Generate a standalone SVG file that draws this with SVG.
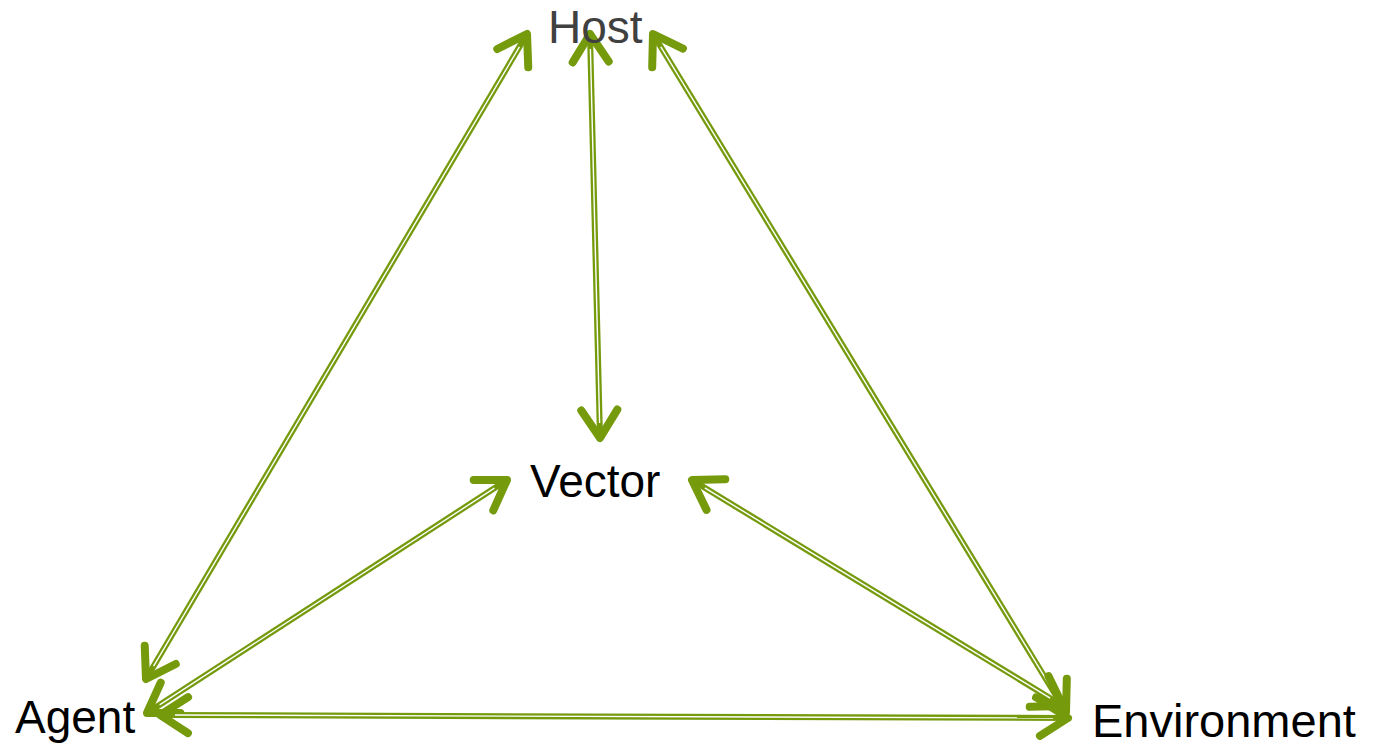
<svg xmlns="http://www.w3.org/2000/svg" width="1377" height="743" viewBox="0 0 1377 743">
<style>
.lbl{font-family:"Liberation Sans",Arial,sans-serif;font-size:46px;fill:#000}
.shaft{fill:none;stroke:#759A0C;stroke-width:6;marker-start:url(#head);marker-end:url(#head)}
.inner{fill:none;stroke:#fff;stroke-width:1.4}
</style>
<defs>
<marker id="head" markerUnits="userSpaceOnUse" orient="auto-start-reverse" refX="0" refY="0" markerWidth="60" markerHeight="60" viewBox="-40 -30 60 60" overflow="visible">
<path d="M -28,-18 L 0,0 L -28,18" fill="none" stroke="#759A0C" stroke-width="8" stroke-linecap="round" stroke-linejoin="round"/>
</marker>
</defs>
<rect width="1377" height="743" fill="#fff"/>
<g id="connectors">
<path class="shaft" d="M 527,34 L 146,679"/>
<path class="inner" d="M 519.4,46.9 L 153.6,666.1"/>
<path class="shaft" d="M 590,34 L 600,438"/>
<path class="inner" d="M 590.4,49 L 599.6,423"/>
<path class="shaft" d="M 653,34 L 1066,712"/>
<path class="inner" d="M 660.8,46.8 L 1058.2,699.2"/>
<path class="shaft" d="M 507,480 L 147,713"/>
<path class="inner" d="M 494.4,488.2 L 159.6,704.8"/>
<path class="shaft" d="M 692,480 L 1063,706"/>
<path class="inner" d="M 704.8,487.8 L 1050.2,698.2"/>
<path class="shaft" d="M 160,715 L 1068,718"/>
<path class="inner" d="M 175,715 L 1053,718"/>
</g>
<g id="host"><text class="lbl" x="548" y="43" style="fill:#404040">Host</text></g>
<g id="vector"><text class="lbl" x="530" y="497">Vector</text></g>
<g id="agent"><text class="lbl" x="15" y="733">Agent</text></g>
<g id="environment"><text class="lbl" x="1092" y="737" style="font-size:47px">Environment</text></g>
</svg>
